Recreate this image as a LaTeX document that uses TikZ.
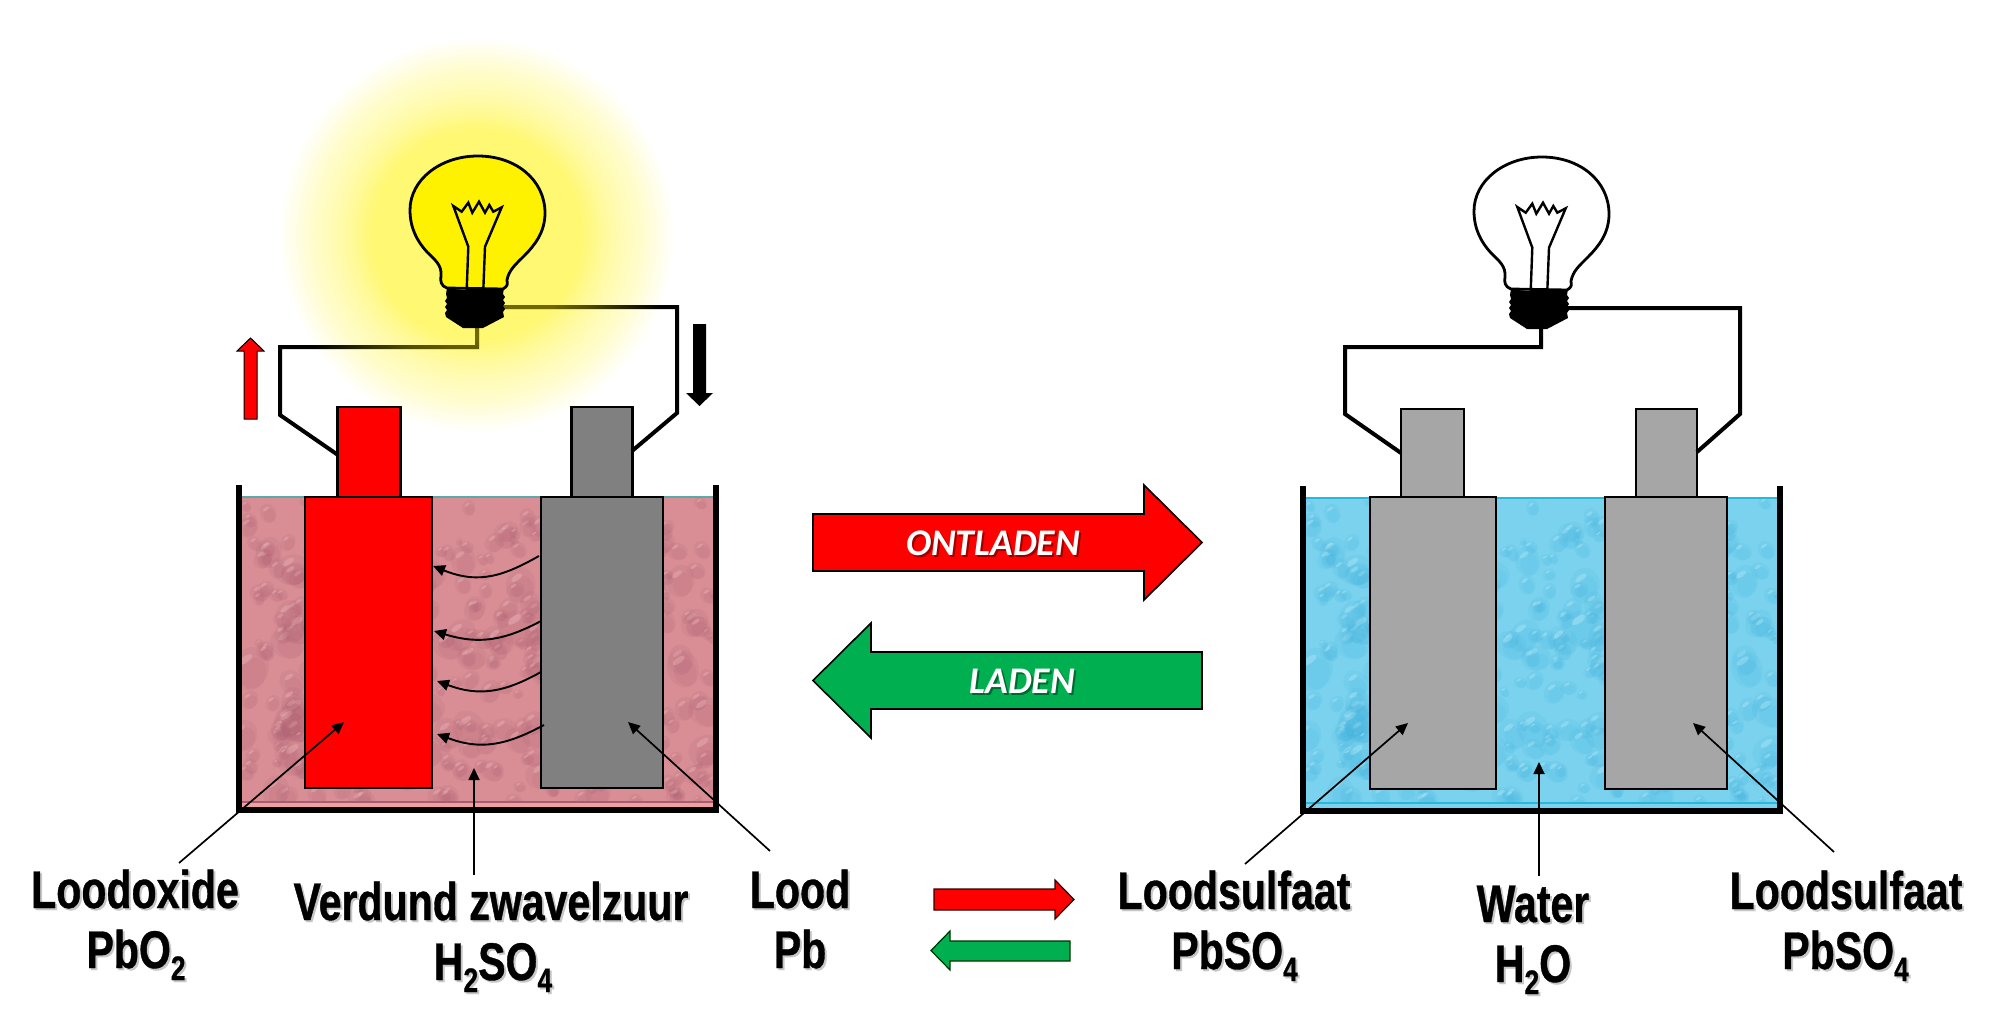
\documentclass[tikz,border=0pt]{standalone}
\usepackage{fontspec}
\setmainfont{Liberation Sans}[FakeStretch=0.775,BoldFeatures={FakeStretch=0.775,FakeBold=0.7}]
\newfontfamily\arrowfont{Carlito}
\usetikzlibrary{arrows.meta}

\definecolor{acidbase}{RGB}{216,142,148}
\definecolor{aciddark}{RGB}{170,92,112}
\definecolor{acidlight}{RGB}{238,188,190}
\definecolor{acidband}{RGB}{240,160,160}
\definecolor{acidline}{RGB}{90,170,170}
\definecolor{waterbase}{RGB}{122,210,238}
\definecolor{waterdark}{RGB}{62,176,220}
\definecolor{waterlight}{RGB}{186,236,248}
\definecolor{waterline}{RGB}{40,185,218}
\definecolor{leadgrey}{RGB}{128,128,128}
\definecolor{sulfategrey}{RGB}{166,166,166}
\definecolor{laadgreen}{RGB}{0,176,80}

% Label text with a soft drop shadow behind it
\newcommand{\shadowed}[2]{\leavevmode\rlap{\kern1pt\raisebox{-1pt}{\color{#2}#1}}#1}
\newcommand{\lowdigit}[1]{\raisebox{-6pt}{\fontsize{17}{17}\selectfont #1}}
\newcommand{\chemlabel}[1]{\shadowed{#1}{black!22}}

\tikzset{
  plate/.style={draw=black,line width=1.25pt,miter limit=10},
  vessel/.style={draw=black,line width=3pt,line join=miter},
  wire/.style={draw=black,line width=2pt,line join=miter},
  pointer/.style={draw=black,line width=.85pt,-{Triangle[length=6pt,width=5.5pt]}},
  ionpath/.style={draw=black,line width=.95pt,-{Triangle[length=6pt,width=5.5pt]}},
  bigarrow/.style={draw=black,line width=.8pt,line join=miter},
  caption/.style={inner sep=0pt,anchor=base,font=\fontsize{26.5}{30}\selectfont\bfseries},
  arrowtext/.style={inner sep=0pt,anchor=base,text=white,font=\arrowfont\fontsize{18.8}{20}\selectfont\bfseries\itshape},
  pics/lamp/.style={code={
    % glass envelope
    \draw[fill=#1,line width=1.4pt,line join=round]
      (447,288) .. controls (441,286) and (440,281) .. (441,276)
      .. controls (442,265) and (435,260) .. (427,252)
      .. controls (417,241) and (410,228) .. (410,210)
      .. controls (410,180) and (440,156) .. (478,156)
      .. controls (516,156) and (545,180) .. (545,213)
      .. controls (545,232) and (535,245) .. (524,256)
      .. controls (515,265) and (509,270) .. (507,280)
      .. controls (507,284) and (509,285) .. (503,289) -- cycle;
    % filament and its two supports
    \draw[line width=1.2pt,line join=miter,miter limit=6]
      (466.7,290) -- (468.3,246.7) -- (453.3,206) -- (461.7,211.7) -- (468.3,202.7)
      -- (472.3,212.7) -- (479,201.7) -- (485,212.7) -- (489.3,205) -- (493.3,211.7)
      -- (501.7,207.3) -- (485,246.7) -- (483.3,290);
    % threaded cap
    \fill[black] (447,288) .. controls (465,291) and (488,291) .. (504,288)
      -- (503,294) -- (505,297) -- (503,300) -- (505,303) -- (503,306) -- (505,309) -- (503,312)
      -- (504,317) -- (483,328) -- (463,328) -- (446,317) -- (445,313) -- (447,310)
      -- (445,307) -- (447,304) -- (445,301) -- (447,298) -- (446,294) -- cycle;
  }}
}

% Drop pattern for the liquids; the seed keeps both tanks alike
\newcommand{\droplets}[6]{%
  \begin{scope}
    \clip (#1,#2) rectangle (#3,#4);
    \pgfmathsetseed{4711}
    \foreach \n in {1,...,400}{
      \pgfmathsetmacro{\dx}{#1+rnd*(#3-#1)}
      \pgfmathsetmacro{\dy}{#2+rnd*(#4-#2)}
      \pgfmathsetmacro{\dr}{4+26*rnd*rnd*rnd+6*rnd}
      \pgfmathsetmacro{\da}{rnd*180}
      \fill[#5,opacity=.11] (\dx,\dy) ellipse[x radius=\dr,y radius=.82*\dr,rotate=\da];
      \fill[#5,opacity=.12] (\dx+.12*\dr,\dy+.2*\dr) ellipse[x radius=.72*\dr,y radius=.58*\dr,rotate=\da];
      \fill[#6,opacity=.36] (\dx-.22*\dr,\dy-.42*\dr) ellipse[x radius=.36*\dr,y radius=.15*\dr,rotate=35];
    }
  \end{scope}}

\begin{document}
\begin{tikzpicture}[x=.5pt,y=-.5pt]
\useasboundingbox (0,0) rectangle (1996,1027);

%---------- left cell: discharged acid bath ----------
\fill[acidbase] (242,497) rectangle (713,807);
\droplets{242}{498}{713}{802}{aciddark}{acidlight}
\fill[acidband] (242,802) rectangle (713,807);
\draw[aciddark,line width=.6pt] (242,802) -- (713,802);
\draw[acidline,line width=.8pt] (242,497) -- (713,497);

\node[plate,fill=red,minimum width=31.5pt,minimum height=45pt,inner sep=0pt] (redtab) at (369,452) {};
\node[plate,fill=leadgrey,minimum width=30.5pt,minimum height=45pt,inner sep=0pt] (greytab) at (602,452) {};
\node[plate,fill=red,minimum width=63.5pt,minimum height=145.5pt,inner sep=0pt] (pbotwo) at (368.5,642.5) {};
\node[plate,fill=leadgrey,minimum width=61pt,minimum height=145.5pt,inner sep=0pt] (leadplate) at (602,642.5) {};

\coordinate (tankAtl) at (239,485);
\coordinate (tankAbl) at (239,809.5);
\coordinate (tankAbr) at (716,809.5);
\coordinate (tankAtr) at (716,485);
\draw[vessel] (tankAtl) -- (tankAbl) -- (tankAbr) -- (tankAtr);

% ions moving between the plates
\coordinate (ionAs) at (539,556); \coordinate (ionAe) at (433,566);
\coordinate (ionBs) at (541,621); \coordinate (ionBe) at (434,631);
\coordinate (ionCs) at (541,672); \coordinate (ionCe) at (437,681);
\coordinate (ionDs) at (544,725); \coordinate (ionDe) at (437,734);
\draw[ionpath] (ionAs) .. controls (505,575) and (480,585) .. (ionAe);
\draw[ionpath] (ionBs) .. controls (505,640) and (480,645) .. (ionBe);
\draw[ionpath] (ionCs) .. controls (505,692) and (480,697) .. (ionCe);
\draw[ionpath] (ionDs) .. controls (505,746) and (480,750) .. (ionDe);

% circuit of the lit lamp
\coordinate (lampAbot) at (477,327);
\coordinate (lampAside) at (503,307);
\coordinate (wireA1) at (477,347);
\coordinate (wireA2) at (280,347);
\coordinate (wireA3) at (280,415);
\coordinate (termAred) at (338,455);
\coordinate (wireA4) at (677,307);
\coordinate (wireA5) at (677,413);
\coordinate (termAgrey) at (632,451);
\draw[wire] (lampAbot) -- (wireA1) -- (wireA2) -- (wireA3) -- (termAred);
\draw[wire] (lampAside) -- (wireA4) -- (wireA5) -- (termAgrey);

% halo around the lit lamp: thin discs, spaced wider towards the rim
\foreach \k in {1,...,68}{
  \pgfmathsetmacro{\haloradius}{105+92*(\k/68)^1.5}
  \fill[yellow,opacity=.012] (477,235) circle[radius=\haloradius];
}

\pic at (0,0) {lamp=yellow};

% current direction markers
\draw[fill=red,draw=black,line width=.5pt,line join=miter]
  (250.5,338) -- (264,351) -- (257,351) -- (257,419) -- (244,419) -- (244,351) -- (237,351) -- cycle;
\fill[black] (693,324) -- (706,324) -- (706,393) -- (713,393) -- (699.5,406) -- (686,393) -- (693,393) -- cycle;

%---------- right cell: water bath ----------
\fill[waterbase] (1306,497) rectangle (1777,808);
\droplets{1306}{498}{1777}{803}{waterdark}{waterlight}
\fill[waterbase] (1306,803) rectangle (1777,808);
\draw[waterline,line width=.9pt] (1306,803) -- (1777,803);
\draw[waterline,line width=.9pt] (1306,498) -- (1777,498);

\node[plate,fill=sulfategrey,minimum width=31.5pt,minimum height=44pt,inner sep=0pt] (tabL) at (1432.5,453) {};
\node[plate,fill=sulfategrey,minimum width=30.5pt,minimum height=44pt,inner sep=0pt] (tabR) at (1666.5,453) {};
\node[plate,fill=sulfategrey,minimum width=63pt,minimum height=146pt,inner sep=0pt] (sulfL) at (1433,643) {};
\node[plate,fill=sulfategrey,minimum width=61pt,minimum height=146pt,inner sep=0pt] (sulfR) at (1666,643) {};

\coordinate (tankBtl) at (1303,486);
\coordinate (tankBbl) at (1303,810.5);
\coordinate (tankBbr) at (1780,810.5);
\coordinate (tankBtr) at (1780,486);
\draw[vessel] (tankBtl) -- (tankBbl) -- (tankBbr) -- (tankBtr);

% circuit of the dark lamp
\coordinate (lampBbot) at (1541,327);
\coordinate (lampBside) at (1567,308);
\coordinate (wireB1) at (1541,347);
\coordinate (wireB2) at (1345,347);
\coordinate (wireB3) at (1345,414);
\coordinate (termBl) at (1401,453);
\coordinate (wireB4) at (1740,308);
\coordinate (wireB5) at (1740,414);
\coordinate (termBr) at (1697,452);
\draw[wire] (lampBbot) -- (wireB1) -- (wireB2) -- (wireB3) -- (termBl);
\draw[wire] (lampBside) -- (wireB4) -- (wireB5) -- (termBr);

\pic at (1064,1) {lamp=white};

%---------- charge / discharge arrows ----------
\draw[bigarrow,fill=red] (813,514) -- (1144,514) -- (1144,485) -- (1202,542.5)
  -- (1144,600) -- (1144,571) -- (813,571) -- cycle;
\draw[bigarrow,fill=laadgreen] (1202,652) -- (871,652) -- (871,623) -- (813,680.5)
  -- (871,738) -- (871,709) -- (1202,709) -- cycle;
\node[arrowtext] (ontladen) at (993,555) {\shadowed{ONTLADEN}{red!62!black}};
\node[arrowtext] (laden) at (1022,693) {\shadowed{LADEN}{laadgreen!60!black}};

\draw[draw=black!80!red,line width=.6pt,fill=red,line join=miter] (934,889) -- (1055,889) -- (1055,880)
  -- (1074,899.5) -- (1055,919) -- (1055,910) -- (934,910) -- cycle;
\draw[draw=black!80!green,line width=.6pt,fill=laadgreen,line join=miter] (1070,941) -- (950,941) -- (950,931)
  -- (931,950.5) -- (950,970) -- (950,961) -- (1070,961) -- cycle;

%---------- labels and their pointers ----------
\node[caption] (loodoxide) at (135,908) {\chemlabel{Loodoxide}};
\node[caption] (pbotext) at (136,968) {\chemlabel{PbO\lowdigit{2}}};
\node[caption] (acidname) at (491,920) {\chemlabel{Verdund zwavelzuur}};
\node[caption] (acidform) at (493,980) {\chemlabel{H\lowdigit{2}SO\lowdigit{4}}};
\node[caption] (leadname) at (800,908) {\chemlabel{Lood}};
\node[caption] (leadform) at (800,968) {\chemlabel{Pb}};
\node[caption] (sulfnameA) at (1234,909) {\chemlabel{Loodsulfaat}};
\node[caption] (sulfformA) at (1234.5,969) {\chemlabel{PbSO\lowdigit{4}}};
\node[caption] (watername) at (1533,922) {\chemlabel{Water}};
\node[caption] (waterform) at (1533,982) {\chemlabel{H\lowdigit{2}O}};
\node[caption] (sulfnameB) at (1846,909) {\chemlabel{Loodsulfaat}};
\node[caption] (sulfformB) at (1845.5,969) {\chemlabel{PbSO\lowdigit{4}}};

\coordinate (ptrAs) at (179,863); \coordinate (ptrAe) at (344,722);
\coordinate (ptrBs) at (474,875); \coordinate (ptrBe) at (474,768);
\coordinate (ptrCs) at (770,851); \coordinate (ptrCe) at (628,722);
\coordinate (ptrDs) at (1245,864); \coordinate (ptrDe) at (1408,723);
\coordinate (ptrEs) at (1539,876); \coordinate (ptrEe) at (1539,762);
\coordinate (ptrFs) at (1834,852); \coordinate (ptrFe) at (1693,723);
\foreach \p in {A,B,C,D,E,F}{
  \draw[pointer] (ptr\p s) -- (ptr\p e);
}
\end{tikzpicture}
\end{document}
